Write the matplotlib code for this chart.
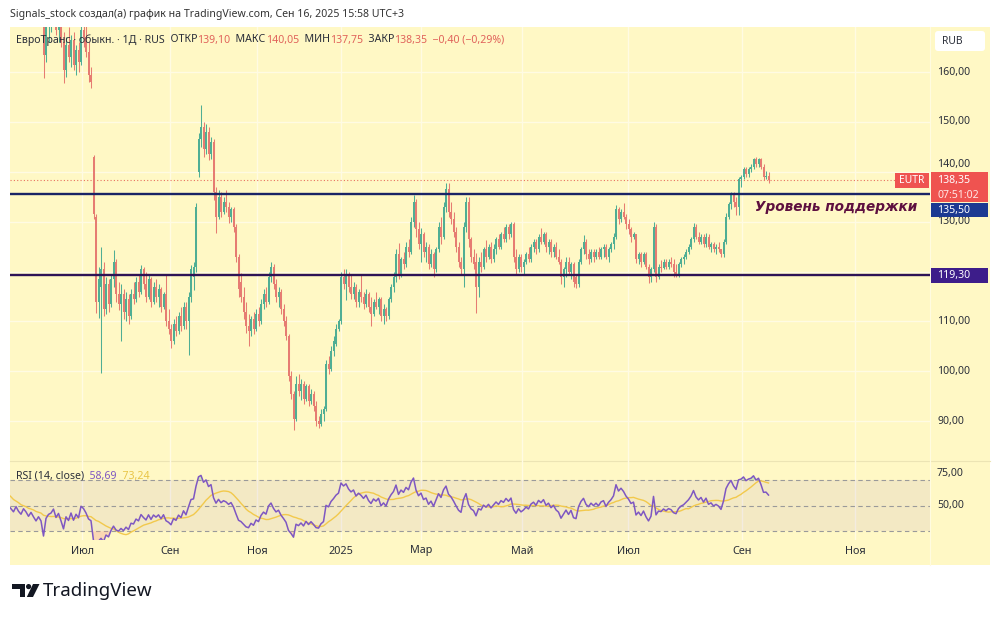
import numpy as np
import pandas as pd
import matplotlib
matplotlib.use("Agg")
import matplotlib.pyplot as plt
import matplotlib.transforms as mtransforms
from matplotlib.patches import Rectangle, FancyBboxPatch, Polygon, Circle

plt.rcParams['font.family'] = ['Noto Sans', 'DejaVu Sans']

# ---------------- DATA ----------------
first_bar = -20   # bars before the visible window (RSI warm-up)
opens = [
 190, 188, 189.5, 187, 186, 187.5, 185, 184, 185.5, 183,
 182, 183.5, 181, 180, 181.5, 179, 178.5, 180, 178, 177,
 178, 177, 176, 177.5, 176, 175, 176.5, 175.5, 174, 175,
 173.5, 172, 173, 171.5, 163.5, 169, 170.5, 171, 172.5, 168.5,
 170, 166, 160.5, 165.5, 163, 166.5, 161.5, 164.5, 162, 168.5,
 167, 164, 159.5, 143, 131, 114, 117, 120.5, 112.5, 117.5,
 113.5, 118.5, 122, 115.5, 113.5, 115.5, 112, 114.5, 111, 115.5,
 114.5, 118, 116, 120.5, 117.5, 115, 118.5, 114, 117, 115,
 116.5, 113, 115.5, 110, 108.5, 106, 109.5, 108, 111, 109,
 113, 110, 115, 119, 121, 140, 146.5, 149, 144.5, 148,
 143.5, 146, 136, 131, 135, 132, 134, 133, 131, 132.5,
 129, 123, 118, 115, 112, 109, 108, 110.5, 108.5, 111.5,
 110, 113.5, 115.5, 114, 119, 121, 117.5, 115, 116, 112.5,
 110, 107, 99, 95.5, 90.5, 97.5, 96, 97.5, 94.5, 97,
 94, 95.5, 93, 90, 89.5, 91.5, 92.5, 101.5, 100.5, 104,
 105.5, 108.5, 110, 119, 117.5, 119.5, 117, 115.5, 117, 114,
 116, 115, 113.5, 115.5, 113, 111.5, 114, 113, 114.5, 111,
 112.5, 111, 114.5, 117, 119, 123.5, 119.5, 122.5, 121.5, 125,
 124, 130, 134, 128.5, 125.5, 127.5, 124, 125, 121.5, 123.5,
 120.5, 124.5, 129, 127, 133, 136.5, 132, 130.5, 128, 125,
 122, 120.5, 129, 134, 126.5, 123, 122, 117, 122, 121,
 124.5, 123, 125, 122.5, 124.5, 126.5, 125, 127.5, 126.5, 129,
 127.5, 129.5, 123, 120.5, 123, 121, 122, 123.5, 122.5, 125,
 126, 124.5, 127, 126, 127.5, 125, 126, 124, 125, 123,
 122, 119, 120.5, 122, 120, 121.5, 119, 117.5, 122, 124.5,
 126, 123.5, 122.5, 124, 123, 124, 123, 124.5, 125, 123,
 124.5, 125.5, 127, 132.5, 130.5, 132, 131, 129.5, 128.5, 127,
 127.5, 122.5, 123.5, 122, 123.5, 121, 119, 120.5, 129, 119,
 121, 120.7, 122, 121, 122, 121.5, 120, 119.5, 121.5, 122.5,
 123, 124, 125, 126.5, 129, 127, 126, 127, 125.5, 127,
 125, 125.5, 124.5, 125, 124.5, 123.5, 126, 131, 133.5, 135.5,
 134, 133, 138.5, 139, 140.5, 139.5, 140.5, 141, 142.5, 141.5,
 142.5, 141, 139, 139.10,
]
highs = [
 191.5, 190.5, 190, 188, 188.5, 188, 186, 186.5, 186, 184,
 184.5, 184, 182, 182.5, 182, 180, 181, 180.5, 178.5, 179,
 178.5, 177.5, 178, 178, 176.5, 177.5, 177, 176, 175.5, 175.5,
 174, 173.5, 173.5, 172.5, 170.5, 172, 173, 174, 173, 171,
 171.5, 168, 167, 169, 167.5, 168, 165.5, 166, 170, 171,
 169.5, 166, 161, 143.3, 131.5, 121, 125, 122, 119, 118.5,
 119.5, 124.3, 122.5, 118, 117.5, 116.5, 116, 115.5, 116.5, 118,
 119, 119.5, 121.3, 121, 120, 119.5, 119, 118, 118.5, 117.5,
 117, 116, 119.3, 112.5, 109.5, 110.5, 111, 112, 113, 114,
 114, 116, 121.3, 122, 133.7, 147.8, 153.4, 150, 149.5, 149,
 147, 146.5, 137, 136.3, 136, 135, 136.4, 134, 133, 133,
 129.5, 123.5, 119.7, 117, 114, 111.5, 111, 112, 112.5, 113,
 114.5, 116.5, 117, 120, 122, 121.5, 118.5, 117, 116.5, 113.5,
 111, 107.5, 100, 96, 99, 99.5, 98.5, 98, 97.5, 97.5,
 96.5, 96, 94, 91, 92.5, 93, 102.3, 103, 105, 107,
 109.5, 110.5, 120, 120.5, 120.5, 120, 119.5, 118, 117.5, 116.5,
 119.5, 116, 116.5, 116, 115, 114.5, 116, 115, 115, 113.5,
 113, 115, 117.5, 120, 124.5, 125.7, 123, 124, 126, 126.5,
 131, 135.4, 134.5, 130, 128.7, 128, 126, 125.5, 124.5, 124,
 125, 130, 131, 134, 137.8, 137.8, 134, 132, 129, 126,
 123, 130, 135, 135, 127, 124.5, 123.7, 123, 124, 125,
 126.3, 125.5, 126, 125.5, 127, 127.5, 128, 129, 129.5, 129.5,
 130, 130, 124.5, 123.5, 123.5, 122.5, 124, 125, 125.5, 126.5,
 126.5, 127.5, 128.7, 128, 128, 126.5, 126.5, 125.5, 126, 124.5,
 122.5, 121, 123, 123, 122, 122, 119.5, 122.5, 125, 127.3,
 126.5, 124.5, 124.5, 124.5, 124.5, 125, 125, 125.5, 125.5, 125,
 126, 127.7, 133.3, 133, 132.5, 133.7, 131.5, 130.5, 129, 128,
 127.5, 124, 124, 124, 124, 121.5, 121, 130, 129.5, 121.5,
 122.3, 122.5, 122.5, 122.5, 123, 122.5, 121.5, 122, 123, 123.5,
 124.5, 125.6, 127, 129.7, 129.5, 128, 127.5, 127.5, 127.7, 127.5,
 126, 126, 125.5, 126, 124.5, 126.6, 131.7, 134, 136, 136,
 135, 139, 139.4, 141, 141, 141, 141.5, 142.8, 143, 142.8,
 142.8, 141.5, 140.2, 140.05,
]
lows = [
 187.5, 187, 186, 185, 185.5, 184.5, 183, 183.5, 182.5, 181,
 181.5, 180.5, 179, 179.5, 178.5, 177.5, 178, 177.5, 176.5, 176.5,
 176, 175.5, 175.5, 175.5, 174.5, 174.5, 175, 173.5, 173.5, 173,
 171.5, 171.5, 171, 158.8, 162, 166, 168, 169.5, 167.5, 166,
 165, 157.8, 159, 162, 161, 160.5, 159.5, 160, 161.5, 165,
 163, 158, 156.8, 130.5, 111.7, 110.7, 99.7, 111, 111.5, 112,
 113, 117, 114, 112.3, 106, 110.5, 110, 109.5, 110.5, 113.5,
 114, 115, 115.5, 116.5, 114, 114.5, 113, 113.5, 114, 113,
 112, 112.5, 109, 107.5, 104.7, 105.5, 107, 107.5, 108, 108.5,
 108.5, 103.3, 114, 116.3, 120, 139, 145, 143, 143.5, 142.4,
 142.5, 134.4, 127.7, 130.5, 131, 131.5, 132, 129.7, 130, 128,
 122, 115, 114, 110.5, 107.7, 105, 107, 107.5, 108, 109,
 109.5, 112.5, 113, 113.5, 118, 116.5, 114, 113, 111.5, 109,
 106.3, 98, 94.5, 88.2, 90, 95, 94.3, 93.5, 94, 93,
 93.5, 92, 89, 88.7, 89, 90, 92, 99.5, 100, 103,
 105, 108, 109.5, 116.5, 114.3, 116, 114.5, 114.5, 113, 113,
 114, 112.5, 113, 112, 109, 111, 112.5, 111.5, 110, 109.5,
 110, 110.5, 114, 116, 118, 118.5, 119, 120.5, 121, 123,
 123.5, 129, 127, 124.5, 122, 123, 122, 120.5, 121, 119,
 120, 124, 125.5, 126.5, 132, 131, 129.5, 127, 124, 121,
 119.5, 117, 128, 125, 122, 120.5, 111.7, 115, 120, 120.5,
 122, 122.5, 121.7, 122, 123.5, 124.5, 124.5, 126, 126, 126.5,
 127, 122, 119.3, 120, 120, 119.5, 121.5, 122, 122, 124,
 123.5, 124, 125.5, 125.5, 124, 123.5, 123, 123, 122.5, 121.5,
 117.5, 117, 119, 119.5, 118.5, 117, 116.7, 117, 121.5, 123.5,
 122.5, 121.5, 122, 122, 122.5, 122.5, 122.5, 123, 122.5, 122,
 124, 124.5, 126.5, 129.5, 130, 130.5, 128.5, 127.5, 126, 126.5,
 121.7, 121.5, 121, 121.5, 120.5, 117.7, 117.9, 120, 118, 118.5,
 120, 120.5, 120.5, 120.5, 121, 119, 118.9, 119, 121, 121.5,
 122.5, 123.5, 124.5, 126, 126.5, 125.5, 125.5, 125, 125, 124.5,
 124, 124, 123.5, 124, 123, 123, 125.5, 130.5, 132.5, 133,
 131.4, 131.4, 137, 138.5, 139, 139, 140, 140.5, 141, 141,
 140.5, 138.4, 138.6, 137.75,
]
closes = [
 188, 189.5, 187, 186, 187.5, 185, 184, 185.5, 183, 182,
 183.5, 181, 180, 181.5, 179, 178.5, 180, 178, 177, 178,
 177, 176, 177.5, 176, 175, 176.5, 175.5, 174, 175, 173.5,
 172, 173, 171.5, 163.5, 169, 170.5, 171, 172.5, 168.5, 170,
 166, 160.5, 165.5, 163, 166.5, 161.5, 164.5, 162, 168.5, 167,
 164, 159.5, 158, 131.5, 114, 118.5, 120.5, 112.5, 117.5, 113.5,
 118.5, 122, 115.5, 113.5, 115.5, 112, 114.5, 111, 115.5, 114.5,
 118, 116, 120.5, 117.5, 115, 118.5, 114, 117, 115, 116.5,
 113, 115.5, 110, 108.5, 106, 109.5, 108, 111, 109, 113,
 110, 115, 120.5, 121, 133, 146.5, 149, 144.5, 148, 143.5,
 146, 136, 131, 135, 132, 134, 133, 131, 132.5, 129,
 123, 116.5, 115, 112, 109, 108, 110.5, 108.5, 111.5, 110,
 113.5, 115.5, 114, 119, 121, 117.5, 115, 116, 112.5, 110,
 107, 99, 95.5, 90.5, 97.5, 96, 97.5, 94.5, 97, 94,
 95.5, 93, 90, 89.5, 91.5, 92.5, 101.5, 100.5, 104, 106,
 108.5, 110, 119, 117.5, 119.5, 117, 115.5, 117, 114, 116,
 115, 113.5, 115.5, 113, 111.5, 114, 113, 114.5, 111, 112.5,
 111, 114.5, 117, 119, 123.5, 119.5, 122.5, 121.5, 125, 124,
 130, 134, 128.5, 125.5, 127.5, 124, 125, 121.5, 123.5, 120.5,
 124.5, 129, 127, 133, 136.5, 132, 130.5, 128, 125, 122,
 120.5, 129, 134, 126.5, 123, 121.5, 117, 122, 121, 124.5,
 123, 125, 122.5, 124.5, 126.5, 125, 127.5, 126.5, 129, 127.5,
 129.5, 123, 120.5, 123, 121, 122, 123.5, 122.5, 125, 126,
 124.5, 127, 126, 127.5, 125, 126, 124, 125, 123, 122,
 119, 120.5, 122, 120, 121.5, 118, 117.5, 122, 124.5, 126,
 123.5, 122.5, 124, 123, 124, 123, 124.5, 125, 123, 124.5,
 125.5, 127, 132.5, 130.5, 132, 131, 129.5, 128.5, 127, 127.5,
 122.5, 123.5, 122, 123.5, 121, 119, 120.5, 129, 119, 121,
 120.7, 122, 121, 122, 121.5, 120, 119.5, 121.5, 122.5, 123,
 124, 125, 126.5, 129, 127, 126, 127, 125.5, 127, 125,
 125.5, 124.5, 125, 124.5, 123.5, 126, 131, 133.5, 135.5, 134,
 133, 138.5, 139, 140.5, 139.5, 140.5, 141, 142.5, 141.5, 142.5,
 141, 139, 139.1, 138.35,
]
month_labels = ["Июл", "Сен", "Ноя", "2025", "Мар", "Май", "Июл", "Сен", "Ноя"]
month_bars = [28.4, 63.6, 98.4, 132.0, 164.0, 204.4, 246.8, 292.4, 337.6]
grid_prices = [160, 150, 140, 130, 120, 110, 100, 90]
price_ticks = [160, 150, 140, 130, 110, 100, 90]   # 120,00 is hidden under the 119,30 label
rsi_ticks = [75, 50]
support_levels = [135.50, 119.30]
last_price = 138.35
title = "Signals_stock создал(а) график на TradingView.com, Сен 16, 2025 15:58 UTC+3"
legend_parts = [("ЕвроТранс · обыкн. · 1Д · RUS", 0), ("  ОТКР", 0), ("139,10", 1),
                ("  МАКС", 0), ("140,05", 1), ("  МИН", 0), ("137,75", 1),
                ("  ЗАКР", 0), ("138,35", 1), ("  −0,40 (−0,29%)", 1)]
rsi_legend = ("RSI (14, close)", "58,69", "73,24")
annotation = "Уровень поддержки"
countdown = "07:51:02"

# ---------------- FIGURE ----------------
W, H = 1000, 619
fig = plt.figure(figsize=(10, 6.19), dpi=100, facecolor="white")
BG = "#fff8c5"
GRID = "#fffbe3"
TXT = "#2a2e39"
UP, DOWN = "#4fae94", "#e67c72"

bg = fig.add_axes([0, 0, 1, 1], zorder=0)
bg.set_xlim(0, W); bg.set_ylim(H, 0); bg.axis("off")
bg.add_patch(Rectangle((10, 27), 980, 538, color=BG, lw=0))

def fax(l, t, r, b, z):
    return fig.add_axes([l / W, 1 - b / H, (r - l) / W, (b - t) / H], zorder=z)

ax = fax(10, 27, 930, 461, 2)
rs = fax(10, 461, 930, 540, 2)
for a in (ax, rs):
    a.set_facecolor("none")
    for s in a.spines.values():
        s.set_visible(False)
    a.set_xticks([]); a.set_yticks([])
    a.set_xlim(-0.4, 367.6)
ax.set_ylim(82.04, 169.02)
rs.set_ylim(23.2, 84.8)

O = np.array(opens, float); Hh = np.array(highs, float)
L = np.array(lows, float); C = np.array(closes, float)
idx = np.arange(len(C)) + first_bar

# grid
for v in grid_prices:
    ax.axhline(v, color=GRID, lw=1.0, zorder=0)
for b in month_bars:
    ax.axvline(b, color=GRID, lw=1.0, zorder=0)
    rs.axvline(b, color=GRID, lw=1.0, zorder=0)

# candles
cols = np.where(C >= O, UP, DOWN)
ax.vlines(idx, L, Hh, colors=cols, lw=0.75, zorder=3)
body = np.maximum(np.abs(C - O), 0.15)
ax.bar(idx, body, bottom=np.minimum(O, C), width=0.6, color=cols, lw=0, zorder=3)

# lines
ax.axhline(last_price, color="#e8705f", lw=0.8, ls=(0, (1, 2)), zorder=2)
ax.axhline(support_levels[0], color="#1a2466", lw=1.7, zorder=4)
ax.axhline(support_levels[1], color="#2e1356", lw=1.7, zorder=4)

tr = mtransforms.blended_transform_factory(ax.transAxes, ax.transData)
ppx = 4.99  # px per price unit
def axx(px):
    return (px - 10) / 920.0

for v in price_ticks:
    # the 140,00 label is lifted just above the current-price box
    yy = v + 1.4 if v == 140 else v
    ax.text(axx(937), yy, f"{v:.2f}".replace(".", ","), transform=tr, fontsize=7.6,
            color=TXT, va="center", ha="left", clip_on=False, zorder=5)

def box(ycenter, hpx, x0, x1, color):
    ax.add_patch(Rectangle((axx(x0), ycenter - hpx / 2 / ppx), (x1 - x0) / 920.0,
                           hpx / ppx, transform=tr, color=color, clip_on=False,
                           zorder=8, lw=0))

# red current price label (two lines)
box(last_price - 1.4, 30, 931, 988, "#ef5350")
ax.text(axx(937), last_price, f"{last_price:.2f}".replace(".", ","), transform=tr,
        fontsize=7.6, color="white", va="center", ha="left", clip_on=False, zorder=9)
ax.text(axx(937), last_price - 15 / ppx, countdown, transform=tr, fontsize=7.6,
        color="#ffe8e6", va="center", ha="left", clip_on=False, zorder=9)
box(last_price, 15, 895, 929, "#ef5350")
ax.text(axx(912), last_price, "EUTR", transform=tr, fontsize=7.4, color="white",
        fontweight="bold", va="center", ha="center", clip_on=False, zorder=9)
# support labels
lab0 = support_levels[0] - 16 / ppx
box(lab0, 14, 931, 988, "#1c3a92")
ax.text(axx(937), lab0, f"{support_levels[0]:.2f}".replace(".", ","), transform=tr,
        fontsize=7.6, color="white", va="center", ha="left", clip_on=False, zorder=9)
box(support_levels[1], 15, 931, 988, "#3d1d8a")
ax.text(axx(937), support_levels[1], f"{support_levels[1]:.2f}".replace(".", ","),
        transform=tr, fontsize=7.6, color="white", va="center", ha="left",
        clip_on=False, zorder=9)

# annotation
ax.text(axx(755), support_levels[0] - 2.6, annotation, transform=tr, fontsize=9.8,
        fontweight="bold", fontstyle="italic", color="#5e1040",
        family=["DejaVu Sans"], va="center", ha="left", zorder=6)

# ---------------- RSI ----------------
cs = pd.Series(C)
d = cs.diff()
up = d.clip(lower=0); dn = (-d).clip(lower=0)
ru = up.ewm(alpha=1 / 14, adjust=False).mean()
rd = dn.ewm(alpha=1 / 14, adjust=False).mean()
rsi = (100 - 100 / (1 + ru / rd)).to_numpy()
rma = pd.Series(rsi).rolling(14).mean().to_numpy()

rs.axhspan(30, 70, color="#7e57c2", alpha=0.09, lw=0, zorder=1)
for lv in (70, 50, 30):
    rs.axhline(lv, color="#9a9a9a", lw=0.8, ls=(0, (4, 3)), zorder=2)
rs.fill_between(idx, rsi, 70, where=rsi > 70, interpolate=True, color="#7cc98a",
                alpha=0.35, lw=0, zorder=2)
rs.fill_between(idx, rsi, 30, where=rsi < 30, interpolate=True, color="#f29b8f",
                alpha=0.35, lw=0, zorder=2)
rs.plot(idx, rma, color="#f2c94c", lw=1.0, zorder=3)
rs.plot(idx, rsi, color="#7e57c2", lw=1.1, zorder=4)

trr = mtransforms.blended_transform_factory(rs.transAxes, rs.transData)
for v in rsi_ticks:
    rs.text(axx(937), v, f"{v:.2f}".replace(".", ","), transform=trr, fontsize=7.6,
            color=TXT, va="center", ha="left", clip_on=False)

trx = mtransforms.blended_transform_factory(rs.transData, rs.transAxes)
for b, lab in zip(month_bars, month_labels):
    rs.text(b, (540 - 551) / 79.0, lab, transform=trx, fontsize=7.8, color=TXT,
            ha="center", va="center", clip_on=False,
            fontweight="bold" if lab.isdigit() else "normal")

# separators
bg.plot([10, 990], [461, 461], color="#ece4b4", lw=0.8)
bg.plot([930, 930], [27, 565], color="#fffbe0", lw=0.8)

# ---------------- TEXTS ----------------
renderer = fig.canvas.get_renderer()

def seg_text(x, y, parts, size):
    for s, col in parts:
        t = fig.text(x / W, 1 - y / H, s, color=col, fontsize=size, va="center",
                     ha="left", zorder=10)
        x += t.get_window_extent(renderer).width

fig.text(10 / W, 1 - 14 / H, title, fontsize=7.6, color="#333333", va="center",
         ha="left")
pal = [TXT, "#e0625a"]
seg_text(16, 40, [(s, pal[k]) for s, k in legend_parts], 7.6)
seg_text(16, 476, [(rsi_legend[0], TXT), ("  " + rsi_legend[1], "#7e57c2"),
                   ("  " + rsi_legend[2], "#e8c547")], 7.6)

# RUB box
bg.add_patch(FancyBboxPatch((935, 31), 50, 20, boxstyle="round,pad=0,rounding_size=3",
                            fc="white", ec="none", zorder=3))
bg.text(942, 41.5, "RUB", fontsize=7.4, color=TXT, va="center", ha="left", zorder=4)

# TradingView logo
bg.add_patch(Polygon([(12, 584), (25, 584), (25, 597), (19.5, 597), (19.5, 589), (12, 589)],
                     closed=True, color="#131722", lw=0))
bg.add_patch(Circle((28.6, 586.6), 2.6, color="#131722", lw=0))
bg.add_patch(Polygon([(33, 584), (39.5, 584), (33, 597), (26.8, 597)], closed=True,
                     color="#131722", lw=0))
bg.text(43, 591, "TradingView", fontsize=13.5, fontweight="bold", color="#131722",
        va="center", ha="left")

fig.savefig("out.png", dpi=100, facecolor="white")
